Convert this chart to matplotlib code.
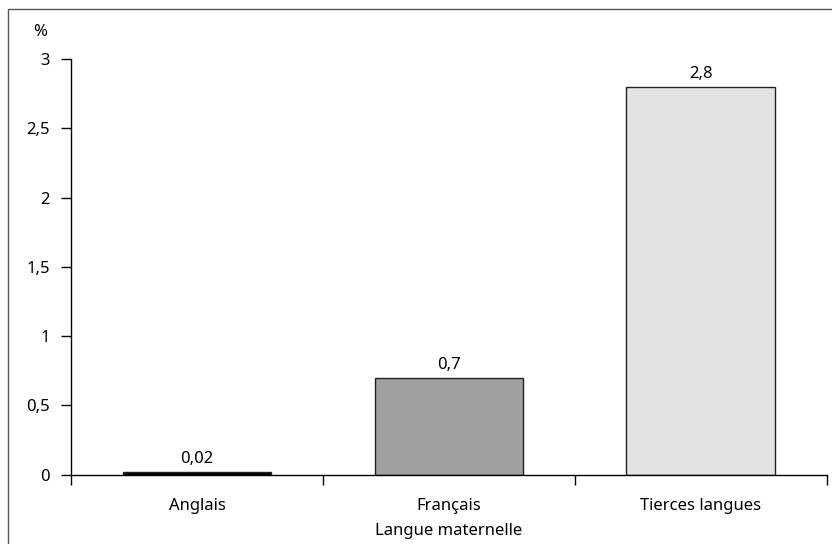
import matplotlib
matplotlib.use("Agg")
import matplotlib.pyplot as plt
from matplotlib.patches import Rectangle
from matplotlib.ticker import FuncFormatter, FixedLocator

plt.rcParams['font.family'] = ['Noto Sans', 'DejaVu Sans']

categories = ["Anglais", "Français", "Tierces langues"]
values = [0.02, 0.7, 2.8]
value_labels = ["0,02", "0,7", "2,8"]
colors = ["#000000", "#a0a0a0", "#e3e3e3"]

fs = 12

fig = plt.figure(figsize=(8.32, 5.44), dpi=100)

# outer frame
fig.patches.append(Rectangle((8 / 832, -0.02), 1.0, (544 - 9) / 544 + 0.02,
                             transform=fig.transFigure, fill=False,
                             edgecolor="#555555", linewidth=1.0))

ax = fig.add_axes([71 / 832, (544 - 474.7) / 544,
                   (826.7 - 71) / 832, (474.7 - 59) / 544])

x = range(len(categories))
ax.bar(x, values, width=0.59, color=colors, edgecolor="#222222", linewidth=1.0)

for xi, v, lab in zip(x, values, value_labels):
    ax.annotate(lab, (xi, v), xytext=(0, 9.5), textcoords="offset points",
                ha="center", va="center", fontsize=fs)

ax.set_xlim(-0.5, 2.5)
ax.set_ylim(0, 3)

ax.spines["top"].set_visible(False)
ax.spines["right"].set_visible(False)
ax.spines["left"].set_linewidth(1.0)
ax.spines["bottom"].set_linewidth(1.0)

ax.set_yticks([0, 0.5, 1, 1.5, 2, 2.5, 3])
ax.yaxis.set_major_formatter(FuncFormatter(lambda v, p: f"{v:g}".replace(".", ",")))
ax.tick_params(axis="y", length=7, width=1.0, labelsize=fs, pad=8)

ax.set_xticks(list(x))
ax.set_xticklabels(categories)
ax.xaxis.set_minor_locator(FixedLocator([-0.5, 0.5, 1.5, 2.5]))
ax.tick_params(axis="x", which="major", length=0, labelsize=fs, pad=17)
ax.tick_params(axis="x", which="minor", length=7, width=1.0)

ax.set_xlabel("Langue maternelle", fontsize=fs, labelpad=6)
fig.text(40 / 832, 1 - 32 / 544, "%", ha="center", va="center", fontsize=fs)

fig.savefig("out.png", dpi=100)
